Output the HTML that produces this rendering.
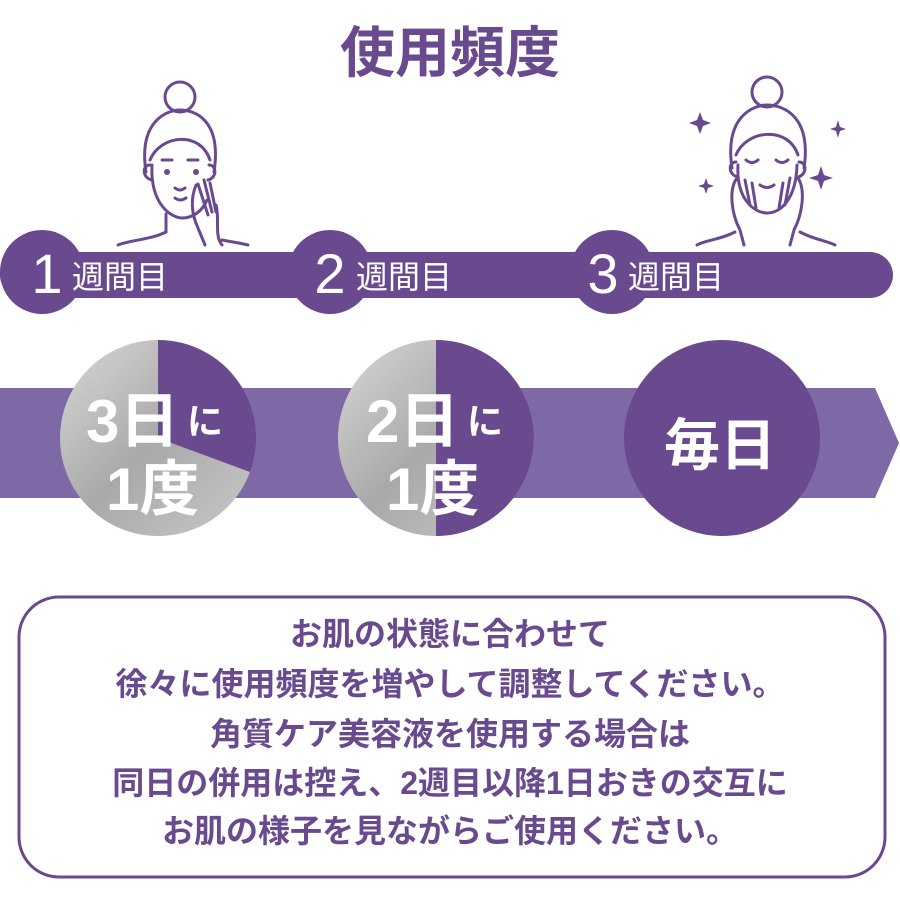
<!DOCTYPE html>
<html><head><meta charset="utf-8"><style>
html,body{margin:0;padding:0;background:#fff;}
body{width:900px;height:900px;position:relative;overflow:hidden;font-family:"Liberation Sans","Noto Sans CJK JP",sans-serif;}
</style></head><body>
<svg width="900" height="900" style="position:absolute;left:0;top:0">
<defs>
<linearGradient id="g" x1="0" y1="0" x2="1" y2="1">
<stop offset="0" stop-color="#d8d8d8"/><stop offset="0.5" stop-color="#a9a9a9"/><stop offset="1" stop-color="#c9c9c9"/>
</linearGradient>
</defs>
<text x="450" y="72" text-anchor="middle" font-size="55" font-weight="bold" fill="#6a4a8f" font-family="Liberation Sans,Noto Sans CJK JP,sans-serif">使用頻度</text>

<!-- face 1 -->
<g fill="none" stroke="#6a4a8f" stroke-width="3" stroke-linecap="round">
<circle cx="180" cy="97" r="15"/>
<path d="M146,172 C138,120 168,110 180,110 C195,110 222,120 214,172"/>
<path d="M150,160 C160,135 200,130 210,160"/>
<path d="M152,165 C150,205 172,218 182,218 C192,218 202,212 207,200"/>
<path d="M150,165 C142,165 142,178 152,180 M209,165 C217,165 217,178 208,180"/>
<path d="M162,160 L172,160 M188,160 L198,160"/>
<path d="M175,188 Q180,192 185,188 M175,198 Q180,202 186,198"/>
<path d="M196,185 C190,200 192,215 198,228 L205,245 M198,184 L208,215 M204,180 L212,212 M210,183 L216,212 M216,205 C220,220 214,235 222,245"/>
<path d="M166,214 L166,232 C150,240 130,240 118,245 M222,240 C232,242 240,243 248,245"/>
<circle cx="167" cy="172" r="1.5" fill="#6a4a8f"/><circle cx="196" cy="172" r="1.5" fill="#6a4a8f"/>
</g>
<!-- face 3 -->
<g fill="none" stroke="#6a4a8f" stroke-width="3" stroke-linecap="round">
<circle cx="767" cy="92" r="15"/>
<path d="M732,168 C724,115 755,105 767,105 C782,105 812,115 804,168"/>
<path d="M736,155 C746,130 788,125 798,155"/>
<path d="M738,165 C736,200 755,213 767,213 C780,213 796,200 797,165"/>
<path d="M736,162 C728,162 728,175 738,177 M799,162 C807,162 807,175 798,177"/>
<path d="M746,160 Q752,165 758,160 M776,160 Q782,165 788,160"/>
<path d="M760,185 Q767,190 774,185"/>
<path d="M737,178 C728,190 732,215 740,230 L744,245 M745,180 L750,205 M752,183 L756,208 M790,178 L785,205 M783,183 L779,208 M798,178 C806,190 802,215 794,230 L790,245"/>
<path d="M735,232 C720,240 705,240 697,245 M800,232 C815,240 825,240 835,245"/>
</g>
<g fill="#6a4a8f">
<path d="M700,112 l3,8 8,3 -8,3 -3,8 -3,-8 -8,-3 8,-3z"/>
<path d="M838,120 l2,7 6,2 -6,2 -2,7 -2,-7 -6,-2 6,-2z"/>
<path d="M706,178 l2,6 6,2 -6,2 -2,6 -2,-6 -6,-2 6,-2z"/>
<path d="M821,166 l3,9 9,3 -9,3 -3,9 -3,-9 -9,-3 9,-3z"/>
</g>

<!-- week band -->
<rect x="0" y="252" width="893" height="46" rx="23" fill="#6a4a8f"/>
<circle cx="42" cy="272" r="42" fill="#6a4a8f"/>
<circle cx="330" cy="272" r="42" fill="#6a4a8f"/>
<circle cx="612" cy="272" r="42" fill="#6a4a8f"/>
<g fill="#fff" font-family="Liberation Sans,Noto Sans CJK JP,sans-serif">
<text x="47" y="293" text-anchor="middle" font-size="56">1</text>
<text x="72" y="288" font-size="32">週間目</text>
<text x="330" y="293" text-anchor="middle" font-size="56">2</text>
<text x="356" y="288" font-size="32">週間目</text>
<text x="603" y="293" text-anchor="middle" font-size="56">3</text>
<text x="628" y="288" font-size="32">週間目</text>
</g>

<!-- arrow -->
<path d="M0,388 L875,388 L899,443 L875,498 L0,498 Z" fill="#7e68a6"/>
<circle cx="158" cy="438" r="98" fill="url(#g)"/>
<path d="M158,438 L158,340 A98,98 0 0 1 250,472 Z" fill="#6a4a8f"/>
<circle cx="436" cy="438" r="98" fill="url(#g)"/>
<path d="M436,340 A98,98 0 0 1 436,536 Z" fill="#6a4a8f"/>
<circle cx="722" cy="438" r="98" fill="#6a4a8f"/>
<g fill="#fff" font-weight="bold" font-family="Liberation Sans,Noto Sans CJK JP,sans-serif">
<text x="86" y="442" font-size="60">3日</text><text x="187" y="434" font-size="36">に</text>
<text x="106" y="510" font-size="60">1度</text>
<text x="366" y="442" font-size="60">2日</text><text x="467" y="434" font-size="36">に</text>
<text x="386" y="510" font-size="60">1度</text>
<text x="720" y="465" text-anchor="middle" font-size="56">毎日</text>
</g>

<rect x="19" y="597" width="866" height="280" rx="40" fill="#fff" stroke="#6a4a8f" stroke-width="3"/>
<g fill="#6a4a8f" font-weight="bold" font-size="32" text-anchor="middle" font-family="Liberation Sans,Noto Sans CJK JP,sans-serif">
<text x="450" y="645">お肌の状態に合わせて</text>
<text x="450" y="695">徐々に使用頻度を増やして調整してください。</text>
<text x="450" y="745">角質ケア美容液を使用する場合は</text>
<text x="450" y="794">同日の併用は控え、2週目以降1日おきの交互に</text>
<text x="450" y="842">お肌の様子を見ながらご使用ください。</text>
</g>
</svg>
</body></html>
